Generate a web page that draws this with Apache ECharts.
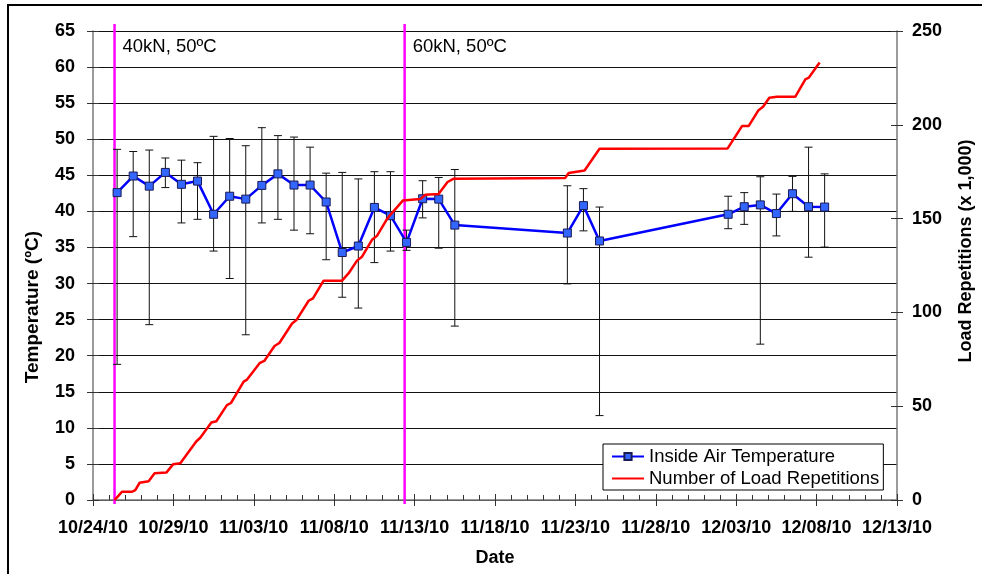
<!DOCTYPE html>
<html>
<head>
<meta charset="utf-8">
<script src="https://cdn.jsdelivr.net/npm/echarts@6/dist/echarts.min.js"></script>
<style>
html, body { margin: 0; padding: 0; background: #fff; }
#chart { width: 982px; height: 574px; }
</style>
</head>
<body>
<div id="chart"></div>
<script>
// Horizontal position of every point is counted in days from 10/24/10 00:00.
const dateTicks = ['10/24/10', '10/29/10', '11/03/10', '11/08/10', '11/13/10', '11/18/10',
                   '11/23/10', '11/28/10', '12/03/10', '12/08/10', '12/13/10'];

// Daily inside air temperature (ºC): mean with daily minimum / maximum
const tempDay  = [1.5, 2.5, 3.5, 4.5, 5.5, 6.5, 7.5, 8.5, 9.5, 10.5, 11.5, 12.5, 13.5, 14.5, 15.5, 16.5,
                  17.5, 18.5, 19.5, 20.5, 21.5, 22.5, 29.5, 30.5, 31.5, 39.5, 40.5, 41.5, 42.5, 43.5, 44.5, 45.5];
const tempMean = [42.6, 44.9, 43.5, 45.4, 43.75, 44.2, 39.6, 42.1, 41.7, 43.6, 45.2, 43.65, 43.65, 41.3, 34.3, 35.2,
                  40.55, 39.4, 35.7, 41.75, 41.7, 38.1, 37.0, 40.8, 35.9, 39.6, 40.65, 40.9, 39.7, 42.45, 40.65, 40.6];
const tempLow  = [18.8, 36.5, 24.3, 43.3, 38.4, 38.9, 34.5, 30.7, 22.9, 38.4, 38.9, 37.4, 36.9, 33.3, 28.1, 26.6,
                  32.9, 34.5, 34.6, 39.1, 34.9, 24.1, 29.95, 37.3, 11.7, 37.6, 38.2, 21.6, 36.6, 40.0, 33.65, 35.05];
const tempHigh = [48.6, 48.3, 48.5, 47.4, 47.1, 46.75, 50.4, 50.1, 49.1, 51.6, 50.5, 50.3, 48.9, 45.3, 45.4, 44.5,
                  45.5, 45.5, 37.4, 44.25, 44.7, 45.8, 43.55, 43.15, 40.6, 42.1, 42.6, 44.8, 42.4, 44.85, 48.9, 45.2];

// Cumulative load repetitions (x 1,000)
const loadDay  = [1.34, 1.59, 1.80, 2.43, 2.63, 2.90, 3.46, 3.83, 4.56, 4.98, 5.43, 6.42, 6.67, 7.36, 7.67, 8.33,
                  8.58, 9.37, 9.58, 10.36, 10.65, 11.29, 11.59, 12.38, 12.65, 13.41, 13.68, 14.34, 15.49, 15.90,
                  16.42, 16.73, 17.35, 17.66, 18.28, 18.49, 19.28, 20.35, 20.67, 21.49, 22.05, 22.43, 29.37, 29.58,
                  30.57, 31.50, 39.47, 40.36, 40.77, 41.39, 41.67, 42.06, 42.54, 43.68, 44.30, 44.51, 45.19];
const loadReps = [0, 2.3, 4.4, 4.4, 5.3, 9.2, 10, 14.2, 14.6, 19, 19.6, 31.2, 33.2, 41.3, 42, 50.6,
                  51.7, 63.1, 64.2, 72.9, 74.1, 82.1, 83.7, 94.1, 95.9, 106.2, 107.5, 116.9, 116.9, 120.9,
                  127.6, 129.7, 138.7, 140.8, 149.7, 152, 159.7, 160.4, 162.7, 163.1, 169.5, 171.3, 171.7, 174.3,
                  175.6, 187.2, 187.4, 199.3, 199.3, 207.8, 209.6, 214.4, 215, 215, 224.2, 225.1, 233.2];

// Start of each loading phase
const phaseDay   = [1.34, 19.38];
const phaseLabel = ['40kN, 50ºC', '60kN, 50ºC'];

const FONT = '"Liberation Sans", Arial, sans-serif';
const AXIS_GREY = '#7a7a7a';

const boldLabel = { fontSize: 18, fontWeight: 'bold', color: '#000', fontFamily: FONT };

const chart = echarts.init(document.getElementById('chart'), null, { renderer: 'canvas' });

chart.setOption({
  backgroundColor: '#fff',
  animation: false,
  graphic: [{
    // outer frame
    type: 'rect', silent: true, z: 0,
    shape: { x: 8, y: 5, width: 1100, height: 700 },
    style: { fill: 'none', stroke: '#000', lineWidth: 2 }
  }, {
    // left axis title
    type: 'text', silent: true, x: 33, y: 307, rotation: Math.PI / 2,
    style: { text: 'Temperature (ºC)', fontSize: 19, fontWeight: 'bold', fontFamily: FONT,
             fill: '#000', align: 'center', verticalAlign: 'middle' }
  }, {
    // right axis title
    type: 'text', silent: true, x: 966, y: 251, rotation: Math.PI / 2,
    style: { text: 'Load Repetitions (x 1,000)', fontSize: 18, fontWeight: 'bold', fontFamily: FONT,
             fill: '#000', align: 'center', verticalAlign: 'middle' }
  }],
  grid: { left: 93, top: 31, width: 804, height: 469, containLabel: false },
  legend: {
    data: ['Inside Air Temperature', { name: 'Number of Load Repetitions', itemStyle: { opacity: 0 } }],
    orient: 'vertical', left: 603, top: 444,
    padding: [3, 4, 2, 8], itemGap: 3, itemWidth: 32, itemHeight: 9,
    backgroundColor: '#fff', borderColor: '#000', borderWidth: 1, borderRadius: 0,
    selectedMode: false,
    textStyle: { fontSize: 18.5, fontFamily: FONT, color: '#000' }
  },
  xAxis: [{
    type: 'value', min: 0, max: 50, interval: 5, position: 'bottom',
    axisLine: { show: true, onZero: false, lineStyle: { color: AXIS_GREY, width: 1.5 } },
    axisTick: { show: true, inside: false, length: 6, lineStyle: { color: '#333' } },
    axisLabel: Object.assign({ margin: 19, formatter: v => dateTicks[Math.round(v / 5)] }, boldLabel),
    splitLine: { show: false },
    name: 'Date', nameLocation: 'middle', nameGap: 49, nameTextStyle: boldLabel
  }, {
    type: 'value', min: 0, max: 50, interval: 5, position: 'bottom',
    axisLine: { show: false, onZero: false },
    axisTick: { show: true, inside: true, length: 6, lineStyle: { color: '#333' } },
    minorTick: { show: true, splitNumber: 5, length: 5, lineStyle: { color: '#333' } },
    axisLabel: { show: false }, splitLine: { show: false }
  }],
  yAxis: [{
    type: 'value', min: 0, max: 65, interval: 5, position: 'left',
    axisLine: { show: true, onZero: false, lineStyle: { color: AXIS_GREY, width: 1.5 } },
    axisTick: { show: true, inside: false, length: 6, lineStyle: { color: '#333' } },
    axisLabel: Object.assign({ margin: 18 }, boldLabel),
    splitLine: { show: true, lineStyle: { color: '#111', width: 1 } }
  }, {
    type: 'value', min: 0, max: 250, interval: 50, position: 'right',
    axisLine: { show: true, onZero: false, lineStyle: { color: AXIS_GREY, width: 1.5 } },
    axisTick: { show: true, inside: false, length: 6, lineStyle: { color: '#333' } },
    axisLabel: Object.assign({ margin: 15 }, boldLabel),
    splitLine: { show: false }
  }, {
    type: 'value', min: 0, max: 65, interval: 5, position: 'left',
    axisLine: { show: false, onZero: false },
    axisTick: { show: true, inside: true, length: 6, lineStyle: { color: '#333' } },
    axisLabel: { show: false }, splitLine: { show: false }
  }, {
    type: 'value', min: 0, max: 250, interval: 50, position: 'right',
    axisLine: { show: false, onZero: false },
    axisTick: { show: true, inside: true, length: 6, lineStyle: { color: '#333' } },
    axisLabel: { show: false }, splitLine: { show: false }
  }],
  series: [{
    // loading phase markers
    type: 'custom', xAxisIndex: 0, yAxisIndex: 0, z: 1, silent: true, clip: false,
    data: phaseDay.map(d => [d, 0]),
    renderItem: (params, api) => {
      const top = api.coord([api.value(0), 65]);
      const bot = api.coord([api.value(0), 0]);
      return {
        type: 'group',
        children: [{
          type: 'line',
          shape: { x1: top[0], y1: top[1] - 7, x2: bot[0], y2: bot[1] + 4 },
          style: { stroke: '#FF00FF', lineWidth: 2.5 }
        }, {
          type: 'text', x: top[0] + 8, y: top[1] + 16,
          style: { text: phaseLabel[params.dataIndex], fontSize: 18.5, fontFamily: FONT,
                   fill: '#000', verticalAlign: 'middle', align: 'left' }
        }]
      };
    }
  }, {
    // daily min / max range of the air temperature
    type: 'custom', xAxisIndex: 0, yAxisIndex: 0, z: 2, silent: true, clip: false,
    data: tempDay.map((d, i) => [d, tempLow[i], tempHigh[i]]),
    encode: { x: 0, y: [1, 2] },
    renderItem: (params, api) => {
      const x = api.value(0);
      const lo = api.coord([x, api.value(1)]);
      const hi = api.coord([x, api.value(2)]);
      const hw = 4;
      const style = { stroke: '#111', lineWidth: 1 };
      return {
        type: 'group',
        children: [
          { type: 'line', shape: { x1: lo[0], y1: lo[1], x2: hi[0], y2: hi[1] }, style },
          { type: 'line', shape: { x1: lo[0] - hw, y1: lo[1], x2: lo[0] + hw, y2: lo[1] }, style },
          { type: 'line', shape: { x1: hi[0] - hw, y1: hi[1], x2: hi[0] + hw, y2: hi[1] }, style }
        ]
      };
    }
  }, {
    name: 'Inside Air Temperature', type: 'line', xAxisIndex: 0, yAxisIndex: 0, z: 3,
    data: tempDay.map((d, i) => [d, tempMean[i]]),
    symbol: 'rect', symbolSize: 8, showAllSymbol: true,
    itemStyle: { color: '#3366FF', borderColor: '#1a1a55', borderWidth: 1 },
    lineStyle: { color: '#0000FF', width: 2.5 }
  }, {
    name: 'Number of Load Repetitions', type: 'line', xAxisIndex: 0, yAxisIndex: 1, z: 4,
    data: loadDay.map((d, i) => [d, loadReps[i]]),
    symbol: 'none',
    itemStyle: { color: '#FF0000' },
    lineStyle: { color: '#FF0000', width: 2.5 }
  }]
});
</script>
</body>
</html>
